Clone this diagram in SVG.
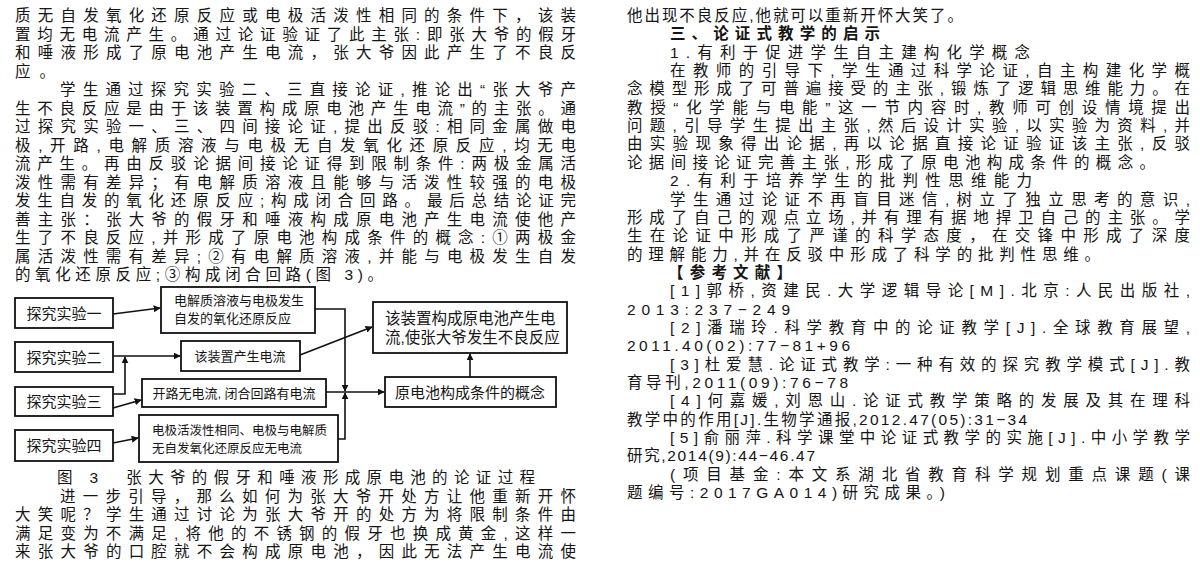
<svg xmlns="http://www.w3.org/2000/svg" width="1200" height="572" viewBox="0 0 1200 572">
<defs>
<style>
.t{font-family:"Liberation Sans","Noto Sans CJK SC",sans-serif;font-size:15.5px;fill:#141414}
.hb{font-weight:bold}
.box{fill:#fff;stroke:#111;stroke-width:1.8}
.l{font-family:"Liberation Sans","Noto Sans CJK SC",sans-serif;fill:#161616}
.c{fill:none;stroke:#111;stroke-width:1.6}
</style>
<marker id="ah" viewBox="0 0 10 10" refX="9" refY="5" markerWidth="7" markerHeight="7" markerUnits="userSpaceOnUse" orient="auto">
<path d="M0,0 L10,5 L0,10 z" fill="#111"/>
</marker>
</defs>
<rect width="1200" height="572" fill="#fff"/>

<g id="text-left" class="t">
<text x="15" y="21" textLength="561" lengthAdjust="spacing">质无自发氧化还原反应或电极活泼性相同的条件下，该装</text>
<text x="15" y="39.5" textLength="561" lengthAdjust="spacing">置均无电流产生。通过论证验证了此主张:即张大爷的假牙</text>
<text x="15" y="58" textLength="561" lengthAdjust="spacing">和唾液形成了原电池产生电流，张大爷因此产生了不良反</text>
<text x="15" y="76.5" textLength="40" lengthAdjust="spacing">应。</text>
<text x="60" y="95" textLength="516" lengthAdjust="spacing">学生通过探究实验二、三直接论证,推论出“张大爷产</text>
<text x="15" y="113.5" textLength="561" lengthAdjust="spacing">生不良反应是由于该装置构成原电池产生电流”的主张。通</text>
<text x="15" y="132" textLength="561" lengthAdjust="spacing">过探究实验一、三、四间接论证,提出反驳:相同金属做电</text>
<text x="15" y="150.5" textLength="561" lengthAdjust="spacing">极,开路,电解质溶液与电极无自发氧化还原反应,均无电</text>
<text x="15" y="169" textLength="561" lengthAdjust="spacing">流产生。再由反驳论据间接论证得到限制条件:两极金属活</text>
<text x="15" y="187.5" textLength="561" lengthAdjust="spacing">泼性需有差异；有电解质溶液且能够与活泼性较强的电极</text>
<text x="15" y="206" textLength="561" lengthAdjust="spacing">发生自发的氧化还原反应;构成闭合回路。最后总结论证完</text>
<text x="15" y="224.5" textLength="561" lengthAdjust="spacing">善主张：张大爷的假牙和唾液构成原电池产生电流使他产</text>
<text x="15" y="243" textLength="561" lengthAdjust="spacing">生了不良反应,并形成了原电池构成条件的概念:①两极金</text>
<text x="15" y="261.5" textLength="561" lengthAdjust="spacing">属活泼性需有差异;②有电解质溶液,并能与电极发生自发</text>
<text x="15" y="280" textLength="368" lengthAdjust="spacing">的氧化还原反应;③构成闭合回路(图 3)。</text>
<text x="57" y="483" textLength="478" lengthAdjust="spacing">图 3　张大爷的假牙和唾液形成原电池的论证过程</text>
<text x="60" y="501.5" textLength="516" lengthAdjust="spacing">进一步引导，那么如何为张大爷开处方让他重新开怀</text>
<text x="15" y="520" textLength="561" lengthAdjust="spacing">大笑呢？学生通过讨论为张大爷开的处方为将限制条件由</text>
<text x="15" y="538.5" textLength="561" lengthAdjust="spacing">满足变为不满足,将他的不锈钢的假牙也换成黄金,这样一</text>
<text x="15" y="557" textLength="561" lengthAdjust="spacing">来张大爷的口腔就不会构成原电池，因此无法产生电流使</text>
</g>

<g id="text-right" class="t">
<text x="627" y="21" textLength="336" lengthAdjust="spacing">他出现不良反应,他就可以重新开怀大笑了。</text>
<text x="670" y="39.35" textLength="210" lengthAdjust="spacing" class="hb">三、论证式教学的启示</text>
<text x="670" y="57.7" textLength="360" lengthAdjust="spacing">1.有利于促进学生自主建构化学概念</text>
<text x="670" y="76.05" textLength="520" lengthAdjust="spacing">在教师的引导下,学生通过科学论证,自主构建化学概</text>
<text x="627" y="94.4" textLength="563" lengthAdjust="spacing">念模型形成了可普遍接受的主张,锻炼了逻辑思维能力。在</text>
<text x="627" y="112.75" textLength="563" lengthAdjust="spacing">教授“化学能与电能”这一节内容时,教师可创设情境提出</text>
<text x="627" y="131.1" textLength="563" lengthAdjust="spacing">问题,引导学生提出主张,然后设计实验,以实验为资料,并</text>
<text x="627" y="149.45" textLength="563" lengthAdjust="spacing">由实验现象得出论据,再以论据直接论证验证该主张,反驳</text>
<text x="627" y="167.8" textLength="528" lengthAdjust="spacing">论据间接论证完善主张,形成了原电池构成条件的概念。</text>
<text x="670" y="186.15" textLength="362" lengthAdjust="spacing">2.有利于培养学生的批判性思维能力</text>
<text x="670" y="204.5" textLength="520" lengthAdjust="spacing">学生通过论证不再盲目迷信,树立了独立思考的意识,</text>
<text x="627" y="222.85" textLength="563" lengthAdjust="spacing">形成了自己的观点立场,并有理有据地捍卫自己的主张。学</text>
<text x="627" y="241.2" textLength="563" lengthAdjust="spacing">生在论证中形成了严谨的科学态度，在交锋中形成了深度</text>
<text x="627" y="259.55" textLength="473" lengthAdjust="spacing">的理解能力,并在反驳中形成了科学的批判性思维。</text>
<text x="668" y="277.9" textLength="124" lengthAdjust="spacing" class="hb">【参考文献】</text>
<text x="670" y="296.25" textLength="520" lengthAdjust="spacing">[1]郭桥,资建民.大学逻辑导论[M].北京:人民出版社,</text>
<text x="627" y="314.6" textLength="163" lengthAdjust="spacing">2013:237−249</text>
<text x="670" y="332.95" textLength="520" lengthAdjust="spacing">[2]潘瑞玲.科学教育中的论证教学[J].全球教育展望,</text>
<text x="627" y="351.3" textLength="223" lengthAdjust="spacing">2011.40(02):77−81+96</text>
<text x="670" y="369.65" textLength="520" lengthAdjust="spacing">[3]杜爱慧.论证式教学:一种有效的探究教学模式[J].教</text>
<text x="627" y="388" textLength="221" lengthAdjust="spacing">育导刊,2011(09):76−78</text>
<text x="670" y="406.35" textLength="520" lengthAdjust="spacing">[4]何嘉媛,刘恩山.论证式教学策略的发展及其在理科</text>
<text x="627" y="424.7" textLength="400" lengthAdjust="spacing">教学中的作用[J].生物学通报,2012.47(05):31−34</text>
<text x="670" y="443.05" textLength="520" lengthAdjust="spacing">[5]俞丽萍.科学课堂中论证式教学的实施[J].中小学教学</text>
<text x="627" y="461.4" textLength="188" lengthAdjust="spacing">研究,2014(9):44−46.47</text>
<text x="670" y="479.75" textLength="520" lengthAdjust="spacing">(项目基金:本文系湖北省教育科学规划重点课题(课</text>
<text x="627" y="498.1" textLength="318" lengthAdjust="spacing">题编号:2017GA014)研究成果。)</text>
</g>

<g id="connectors">
<path class="c" d="M113,314 L160,308" marker-end="url(#ah)"/>
<path class="c" d="M113,356 L180,356" marker-end="url(#ah)"/>
<path class="c" d="M113,394 H125 V357" marker-end="url(#ah)"/>
<path class="c" d="M113,408 L141,400" marker-end="url(#ah)"/>
<path class="c" d="M113,443 L138,438" marker-end="url(#ah)"/>
<path class="c" d="M315,309 H345 V391" marker-end="url(#ah)"/>
<path class="c" d="M338,439 H345 V393" marker-end="url(#ah)"/>
<path class="c" d="M326,392 H384" marker-end="url(#ah)"/>
<path class="c" d="M300,355 L372,327" marker-end="url(#ah)"/>
<path class="c" d="M470,377 V354" marker-end="url(#ah)"/>
</g>

<g id="n-exp1"><rect class="box" x="15" y="298" width="98" height="30"/><text class="l" x="64" y="318.5" font-size="15" text-anchor="middle">探究实验一</text></g>
<g id="n-exp2"><rect class="box" x="15" y="342" width="98" height="30"/><text class="l" x="64" y="362.5" font-size="15" text-anchor="middle">探究实验二</text></g>
<g id="n-exp3"><rect class="box" x="15" y="387" width="98" height="29"/><text class="l" x="64" y="407" font-size="15" text-anchor="middle">探究实验三</text></g>
<g id="n-exp4"><rect class="box" x="15" y="430" width="98" height="31"/><text class="l" x="64" y="451" font-size="15" text-anchor="middle">探究实验四</text></g>

<g id="n-redox"><rect class="box" x="161" y="287" width="154" height="46"/>
<text class="l" x="174" y="305" font-size="13">电解质溶液与电极发生</text>
<text class="l" x="174" y="323" font-size="13">自发的氧化还原反应</text></g>
<g id="n-current"><rect class="box" x="181" y="341" width="119" height="30"/><text class="l" x="240" y="361" font-size="13" text-anchor="middle">该装置产生电流</text></g>
<g id="n-circuit"><rect class="box" x="142" y="379" width="184" height="28"/><text class="l" x="234" y="397.5" font-size="13" text-anchor="middle">开路无电流, 闭合回路有电流</text></g>
<g id="n-same"><rect class="box" x="139" y="415" width="199" height="47"/>
<text class="l" x="152" y="435" font-size="12.5">电极活泼性相同、电极与电解质</text>
<text class="l" x="152" y="453" font-size="12.5">无自发氧化还原反应无电流</text></g>
<g id="n-claim"><rect class="box" x="373" y="302" width="194" height="51"/>
<text class="l" x="385" y="324" font-size="15.5">该装置构成原电池产生电</text>
<text class="l" x="385" y="343" font-size="15.5">流,使张大爷发生不良反应</text></g>
<g id="n-concept"><rect class="box" x="385" y="377" width="171" height="30"/><text class="l" x="470" y="397.5" font-size="15" text-anchor="middle">原电池构成条件的概念</text></g>
</svg>
